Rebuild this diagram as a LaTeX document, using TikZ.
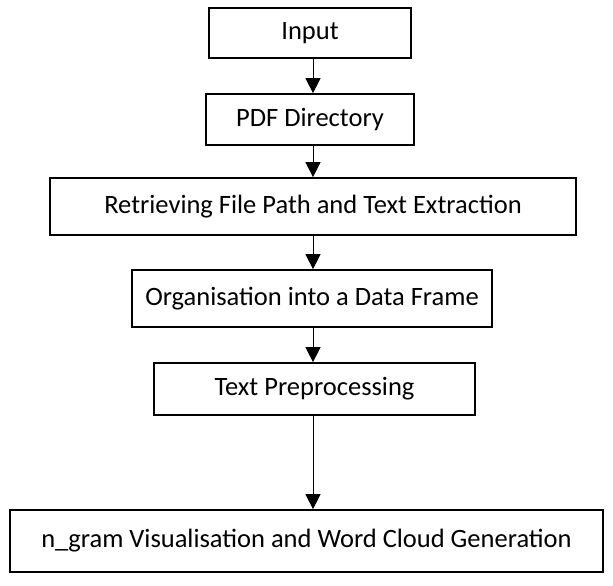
\documentclass[tikz,border=0pt]{standalone}
\usepackage{fontspec}
\setmainfont{Carlito}
\usetikzlibrary{arrows.meta}
\tikzset{
  stepbox/.style={draw=black, line width=1.7pt, fill=white, inner sep=0pt,
    font=\fontsize{26.5}{31}\selectfont, align=center},
  flow/.style={line width=1pt, -{Triangle[width=15pt,length=15pt]}}
}
\begin{document}
\begin{tikzpicture}[x=1pt,y=-1pt]
  \useasboundingbox[fill=white] (0,0) rectangle (613,586);
  \node[stepbox, minimum width=202pt, minimum height=50pt] (input) at (310,33) {Input};
  \node[stepbox, minimum width=208pt, minimum height=51pt] (pdf) at (310,119.5) {PDF Directory};
  \node[stepbox, minimum width=526pt, minimum height=57pt] (extract) at (313,206.5) {Retrieving File Path and Text Extraction};
  \node[stepbox, minimum width=360pt, minimum height=57pt] (frame) at (312,298.5) {Organisation into a Data Frame};
  \node[stepbox, minimum width=321pt, minimum height=52pt] (prep) at (314.5,389) {Text Preprocessing};
  \node[stepbox, minimum width=593pt, minimum height=62pt] (viz) at (306.5,541) {n\_gram Visualisation and Word Cloud Generation};
  \draw[flow] (input.south -| 313,0) -- (pdf.north -| 313,0);
  \draw[flow] (pdf.south -| 313,0) -- (extract.north -| 313,0);
  \draw[flow] (extract.south -| 313,0) -- (frame.north -| 313,0);
  \draw[flow] (frame.south -| 313,0) -- (prep.north -| 313,0);
  \draw[flow] (prep.south -| 313,0) -- (viz.north -| 313,0);
\end{tikzpicture}
\end{document}
